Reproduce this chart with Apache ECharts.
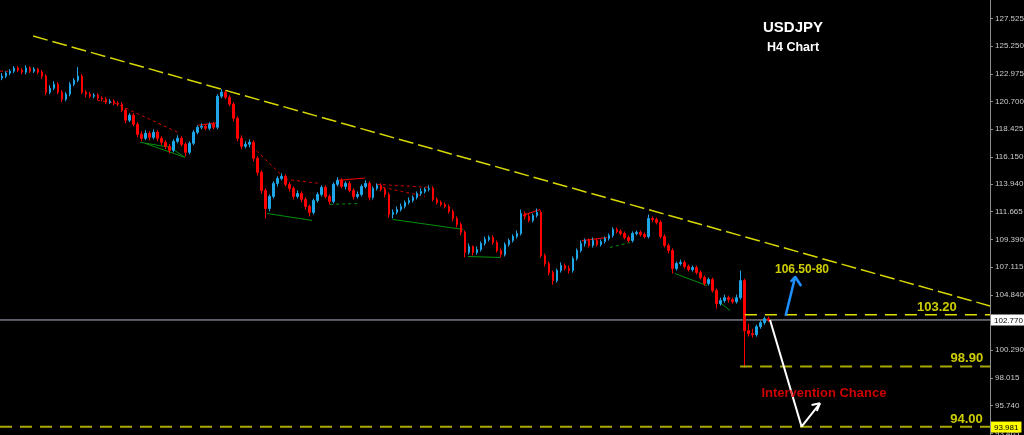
<!DOCTYPE html>
<html><head><meta charset="utf-8">
<script src="https://cdn.jsdelivr.net/npm/echarts@6/dist/echarts.min.js"></script>
<style>html,body{margin:0;padding:0;background:#000;overflow:hidden}#c{width:1024px;height:435px}</style>
</head><body><div id="c"></div>
<script>
// USDJPY H4 candles: [open, close, low, high]
const candles = [
[122.62,122.78,122.45,123.03],[122.78,123.03,122.62,123.19],[123.03,123.19,122.86,123.36],[123.19,123.44,123.03,123.60],
[123.44,123.27,123.11,123.60],[123.27,123.11,122.94,123.44],[123.11,123.44,122.94,123.68],[123.44,123.19,123.03,123.60],
[123.19,123.36,123.03,123.52],[123.36,123.11,122.94,123.44],[123.11,122.78,122.53,123.27],[122.78,121.46,121.22,122.94],
[121.46,121.79,121.30,122.04],[121.79,122.12,121.63,122.37],[122.12,121.46,121.30,122.29],[121.46,120.89,120.64,121.63],
[120.89,121.30,120.72,121.46],[121.30,122.12,121.13,122.29],[122.12,122.45,121.96,122.62],[122.45,122.78,122.29,123.52],
[122.78,121.46,121.30,122.94],[121.46,121.30,121.05,121.63],[121.30,121.13,120.97,121.46],[121.13,121.22,120.97,121.38],
[121.22,120.97,120.81,121.38],[120.97,120.89,120.72,121.13],[120.89,120.64,120.48,121.05],[120.64,120.72,120.48,120.89],
[120.72,120.56,120.40,120.89],[120.56,120.48,120.31,120.72],[120.48,119.98,119.82,120.64],[119.98,119.16,118.91,120.15],
[119.16,119.57,119.00,119.74],[119.57,118.83,118.67,119.74],[118.83,118.01,117.76,119.00],[118.01,117.68,117.43,118.26],
[117.68,118.09,117.52,118.34],[118.09,117.76,117.52,118.26],[117.76,118.17,117.60,118.42],[118.17,117.68,117.43,118.34],
[117.68,117.35,117.11,117.85],[117.35,117.02,116.78,117.52],[117.02,116.69,116.45,117.19],[116.69,117.43,116.53,117.60],
[117.43,117.68,117.27,117.93],[117.68,117.19,117.02,117.85],[117.19,116.53,116.20,117.35],[116.53,117.27,116.36,117.43],
[117.27,118.17,117.11,118.34],[118.17,118.59,118.01,118.75],[118.59,118.67,118.42,118.91],[118.67,118.50,118.34,118.83],
[118.50,118.83,118.34,119.00],[118.83,118.59,118.42,119.00],[118.59,121.13,118.42,121.30],[121.13,121.46,120.97,121.71],
[121.46,121.05,120.89,121.63],[121.05,120.48,120.31,121.22],[120.48,119.33,119.08,120.64],[119.33,117.68,117.43,119.49],
[117.68,117.02,116.78,117.93],[117.02,117.19,116.86,117.43],[117.19,117.35,116.94,117.60],[117.35,116.04,115.79,117.52],
[116.04,114.89,114.64,116.20],[114.89,113.40,113.15,115.05],[113.40,111.92,111.10,113.57],[111.92,112.91,111.68,113.07],
[112.91,113.98,112.74,114.15],[113.98,114.39,113.73,114.56],[114.39,114.56,114.23,114.81],[114.56,113.90,113.73,114.72],
[113.90,113.57,113.32,114.07],[113.57,112.91,112.66,113.73],[112.91,113.15,112.74,113.40],[113.15,112.66,112.42,113.32],
[112.66,112.09,111.84,112.83],[112.09,111.60,111.27,112.25],[111.60,112.58,111.43,112.74],[112.58,113.07,112.42,113.24],
[113.07,113.65,112.91,113.82],[113.65,112.91,112.74,113.82],[112.91,112.50,112.25,113.07],[112.50,113.90,112.33,114.07],
[113.90,114.23,113.73,114.48],[114.23,113.73,113.57,114.39],[113.73,113.98,113.49,114.15],[113.98,113.40,113.24,114.15],
[113.40,112.91,112.66,113.57],[112.91,113.07,112.74,113.32],[113.07,113.73,112.91,113.90],[113.73,113.98,113.57,114.23],
[113.98,112.83,112.58,114.15],[112.83,113.57,112.66,113.73],[113.57,113.82,113.40,113.98],[113.82,113.49,113.32,113.98],
[113.49,113.07,112.83,113.65],[113.07,111.43,111.18,113.24],[111.43,111.60,111.10,111.84],[111.60,111.84,111.43,112.09],
[111.84,112.09,111.68,112.33],[112.09,112.42,111.92,112.58],[112.42,112.58,112.25,112.83],[112.58,112.83,112.42,113.00],
[112.83,113.15,112.66,113.32],[113.15,113.32,112.99,113.57],[113.32,113.49,113.15,113.65],[113.49,113.57,113.32,113.82],
[113.57,112.66,112.50,113.73],[112.66,112.42,112.25,112.83],[112.42,112.25,112.09,112.58],[112.25,112.09,111.92,112.42],
[112.09,111.68,111.51,112.25],[111.68,111.10,110.86,111.84],[111.10,110.61,110.37,111.27],[110.61,109.96,109.71,110.78],
[109.96,108.31,107.90,110.12],[108.31,108.80,108.14,109.05],[108.80,108.31,108.06,108.88],[108.31,108.55,108.14,108.80],
[108.55,109.05,108.39,109.21],[109.05,109.38,108.88,109.62],[109.38,109.54,109.21,109.71],[109.54,109.13,108.96,109.71],
[109.13,108.47,108.31,109.29],[108.47,108.14,107.90,108.64],[108.14,108.96,107.98,109.13],[108.96,109.29,108.80,109.46],
[109.29,109.62,109.13,109.79],[109.62,109.87,109.46,110.12],[109.87,111.51,109.71,111.84],[111.51,111.27,111.02,111.68],
[111.27,110.94,110.78,111.51],[110.94,111.35,110.78,111.51],[111.35,111.60,111.18,111.92],[111.60,108.06,107.90,111.76],
[108.06,107.40,107.16,108.23],[107.40,106.66,106.42,107.57],[106.66,106.00,105.67,106.83],[106.00,106.83,105.84,106.99],
[106.83,107.24,106.66,107.49],[107.24,106.99,106.83,107.40],[106.99,106.83,106.58,107.24],[106.83,107.81,106.66,107.98],
[107.81,108.47,107.65,108.64],[108.47,109.05,108.31,109.29],[109.05,109.29,108.80,109.46],[109.29,108.88,108.72,109.46],
[108.88,109.29,108.72,109.54],[109.29,108.96,108.80,109.46],[108.96,109.21,108.80,109.38],[109.21,109.46,109.05,109.62],
[109.46,109.71,109.29,109.87],[109.71,110.20,109.54,110.37],[110.20,110.04,109.87,110.37],[110.04,109.87,109.71,110.20],
[109.87,109.54,109.38,110.04],[109.54,109.29,109.13,109.71],[109.29,109.87,109.13,110.04],[109.87,109.96,109.71,110.12],
[109.96,109.79,109.62,110.12],[109.79,109.62,109.46,109.96],[109.62,111.10,109.46,111.43],[111.10,111.02,110.78,111.27],
[111.02,110.78,110.61,111.18],[110.78,109.62,109.46,110.94],[109.62,108.88,108.72,109.79],[108.88,108.47,108.23,109.05],
[108.47,106.99,106.58,108.64],[106.99,107.40,106.83,107.57],[107.40,107.49,107.24,107.73],[107.49,107.16,106.99,107.65],
[107.16,106.91,106.74,107.32],[106.91,107.07,106.74,107.24],[107.07,106.66,106.50,107.24],[106.66,106.25,106.09,106.83],
[106.25,105.76,105.59,106.42],[105.76,106.09,105.59,106.25],[106.09,105.18,105.02,106.25],[105.18,104.11,103.70,105.35],
[104.11,104.36,103.95,104.60],[104.36,104.60,104.19,104.85],[104.60,104.44,104.19,104.77],[104.44,104.27,104.11,104.60],
[104.27,104.60,104.11,104.85],[104.60,106.00,104.44,106.83],[106.00,101.89,98.85,106.16],[101.89,101.65,101.40,102.46],
[101.65,101.56,101.32,102.05],[101.56,102.22,101.40,102.38],[102.22,102.55,102.05,102.71],[102.55,102.87,102.38,103.04],
[102.87,102.77,102.63,103.04]
];
const barSlots = 248;
const categories = Array.from({length: barSlots}, (_, i) => 'bar' + i);
const yTickLabels = [127.525,125.250,122.975,120.700,118.425,116.150,113.940,111.665,109.390,107.115,104.840,100.290,98.015,95.740,93.465];
const priceTags = [102.770, 93.981];
const yMin = 93.33, yMax = 129.03;

// annotation geometry in [bar index, price]
const trendLine = [[7.8,126.07],[247.5,103.92]];
const level10320 = [[186.1,103.20],[247.5,103.20]];
const level9890 = [[184.9,98.95],[247.5,98.95]];
const level9400 = [[-0.5,94.00],[247.5,94.00]];
const priceLine = [[-0.5,102.77],[247.5,102.77]];
const blueShaft = [[196.3,103.12],[198.7,106.32]];
const blueHead = [[197.6,105.91],[198.7,106.32],[200.2,105.56]];
const whitePath = [[192.4,102.77],[200.3,94.02],[204.9,95.93]];
const whiteHead = [[202.8,95.79],[204.9,95.93],[204.1,95.30]];
const redDashed = [
  [[-0.5,123.19],[1.5,123.19]],
  [[23.8,120.81],[28.3,120.56],[44.6,118.09]],
  [[61.6,117.35],[70.1,114.64]],
  [[70.9,114.31],[79.7,113.98]],
  [[93.9,113.90],[107.2,113.65]],
  [[95.4,113.65],[106.0,112.91]]
];
const redSolid = [
  [[49.1,118.75],[53.9,118.94]],
  [[84.2,114.23],[90.9,114.42]],
  [[130.5,111.35],[134.8,111.84]],
  [[145.3,109.29],[151.6,109.54]]
];
const greenSolid = [
  [[34.6,117.35],[42.1,116.94],[45.8,116.12]],
  [[35.8,117.27],[45.8,116.12]],
  [[66.4,111.51],[77.7,110.94]],
  [[97.9,111.02],[115.5,110.20]],
  [[116.7,107.98],[124.8,107.90]],
  [[168.6,106.58],[176.6,105.59]],
  [[179.9,104.19],[182.4,103.54]]
];
const greenDashed = [
  [[82.2,112.25],[89.2,112.33]],
  [[152.3,108.72],[157.3,109.13]]
];
const textLabels = [
  {text:'103.20', at:[234.2,103.79], color:'#ffff00', size:13},
  {text:'98.90', at:[241.7,99.65], color:'#ffff00', size:13},
  {text:'94.00', at:[241.6,94.60], color:'#ffff00', size:13},
  {text:'106.50-80', at:[200.4,106.91], color:'#ffff00', size:12},
  {text:'Intervention Chance', at:[205.9,96.78], color:'#ff0000', size:13}
];

const FONT = '"Liberation Sans", Arial, sans-serif';
function lineSeries(data, color, width, type, z) {
  return {type:'line', xAxisIndex:1, yAxisIndex:0, data:data, symbol:'none', showSymbol:false,
    silent:true, animation:false, z:z||3,
    lineStyle:{color:color, width:width, type:type||'solid', cap:'butt'}};
}
const series = [];
series.push(lineSeries(priceLine, '#aeb6c4', 1, 'solid', 1));
redDashed.forEach(d => series.push(lineSeries(d, '#d40000', 1, [3,3], 2)));
redSolid.forEach(d => series.push(lineSeries(d, '#e60000', 1.2, 'solid', 2)));
greenSolid.forEach(d => series.push(lineSeries(d, '#00900a', 1, 'solid', 2)));
greenDashed.forEach(d => series.push(lineSeries(d, '#00900a', 1, [3,3], 2)));
series.push({type:'candlestick', xAxisIndex:0, yAxisIndex:0, data:candles, barWidth:2,
  silent:true, animation:false, z:4,
  itemStyle:{color:'#1fa6e8', color0:'#ff0000', borderColor:'#1fa6e8', borderColor0:'#ff0000', borderWidth:1}});
series.push(lineSeries(trendLine, '#d8d800', 1.5, [15,5], 5));
series.push(lineSeries(level10320, '#dede00', 1.3, [12,8], 5));
series.push(lineSeries(level9890, '#a8a800', 2, [12,8], 5));
series.push(lineSeries(level9400, '#a8a800', 2, [12,8], 5));
series.push(lineSeries(blueShaft, '#1e90ff', 2.5, 'solid', 6));
series.push(lineSeries(blueHead, '#1e90ff', 2.5, 'solid', 6));
series.push(lineSeries(whitePath, '#ffffff', 2, 'solid', 6));
series.push(lineSeries(whiteHead, '#ffffff', 2, 'solid', 6));
series.push({type:'scatter', xAxisIndex:1, yAxisIndex:0, symbolSize:1, silent:true, animation:false, z:7,
  itemStyle:{color:'rgba(0,0,0,0)'},
  data: textLabels.map(t => ({value:t.at, label:{show:true, position:'inside', formatter:t.text,
    color:t.color, fontSize:t.size, fontWeight:'bold', fontFamily:FONT}}))});

const chart = echarts.init(document.getElementById('c'), null, {renderer:'canvas'});
chart.setOption({
  backgroundColor:'#000000',
  animation:false,
  grid:{left:0, right:34, top:0, bottom:0, containLabel:false, outerBoundsMode:'none'},
  xAxis:[
    {type:'category', data:categories, boundaryGap:true, show:false, axisLine:{onZero:false}},
    {type:'value', min:-0.5, max:barSlots-0.5, show:false, axisLine:{onZero:false}}
  ],
  yAxis:[
    {type:'value', position:'right', min:yMin, max:yMax,
      axisLine:{show:true, onZero:false, lineStyle:{color:'#8c8c8c', width:1}},
      axisTick:{show:true, length:3, customValues:yTickLabels, lineStyle:{color:'#8c8c8c'}},
      splitLine:{show:false},
      axisLabel:{customValues:yTickLabels, formatter:v => Number(v).toFixed(3), color:'#cccccc',
        fontSize:8, fontFamily:FONT, margin:5}},
    {type:'value', position:'right', min:yMin, max:yMax,
      axisLine:{show:false, onZero:false}, axisTick:{show:false}, splitLine:{show:false},
      axisLabel:{customValues:priceTags, margin:1, fontSize:8, fontFamily:FONT,
        formatter:v => Math.abs(v-93.981)<0.01 ? '{y|93.981}' : '{w|102.770}',
        rich:{
          w:{backgroundColor:'#ffffff', color:'#000000', padding:[2,3,1,3], fontSize:8, fontFamily:FONT},
          y:{backgroundColor:'#ffff00', color:'#000000', padding:[2,3,1,3], fontSize:8, fontFamily:FONT}
        }}}
  ],
  graphic:[
    {type:'text', x:793, y:28, silent:true, z:10,
      style:{text:'USDJPY', fill:'#ffffff', font:'bold 15px ' + FONT, align:'center', verticalAlign:'middle', textAlign:'center', textVerticalAlign:'middle'}},
    {type:'text', x:793, y:48, silent:true, z:10,
      style:{text:'H4 Chart', fill:'#ffffff', font:'bold 12.5px ' + FONT, align:'center', verticalAlign:'middle', textAlign:'center', textVerticalAlign:'middle'}}
  ],
  series:series
});
</script></body></html>
